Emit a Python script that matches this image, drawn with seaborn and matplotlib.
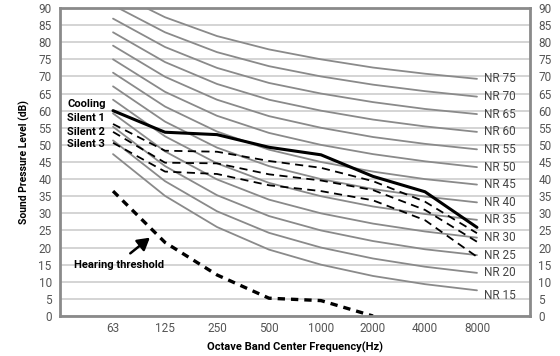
import matplotlib
matplotlib.use("Agg")
import matplotlib.pyplot as plt
import seaborn as sns
import numpy as np
import pandas as pd

freqs = ["63", "125", "250", "500", "1000", "2000", "4000", "8000"]

nr_names = ["NR 15", "NR 20", "NR 25", "NR 30", "NR 35", "NR 40", "NR 45",
            "NR 50", "NR 55", "NR 60", "NR 65", "NR 70", "NR 75"]
nr15 = [47.3, 35.1, 26.0, 19.4, 15.0, 11.7, 9.3, 7.5]
nr20 = [51.3, 39.4, 30.6, 24.3, 20.0, 16.8, 14.4, 12.6]
nr25 = [55.3, 43.8, 35.3, 29.2, 25.0, 21.9, 19.5, 17.8]
nr30 = [59.2, 48.1, 39.9, 34.0, 30.0, 27.0, 24.7, 22.9]
nr35 = [63.2, 52.5, 44.6, 38.9, 35.0, 32.0, 29.8, 28.1]
nr40 = [67.1, 56.8, 49.2, 43.8, 40.0, 37.1, 34.9, 33.2]
nr45 = [71.1, 61.2, 53.9, 48.6, 45.0, 42.2, 40.0, 38.4]
nr50 = [75.0, 65.5, 58.5, 53.5, 50.0, 47.3, 45.2, 43.5]
nr55 = [79.0, 69.9, 63.2, 58.4, 55.0, 52.3, 50.3, 48.7]
nr60 = [82.9, 74.2, 67.8, 63.2, 60.0, 57.4, 55.4, 53.8]
nr65 = [86.9, 78.6, 72.5, 68.1, 65.0, 62.5, 60.5, 59.0]
nr70 = [90.8, 82.9, 77.1, 73.0, 70.0, 67.6, 65.7, 64.1]
nr75 = [94.8, 87.3, 81.8, 77.9, 75.0, 72.6, 70.8, 69.3]
nr_values = [nr15, nr20, nr25, nr30, nr35, nr40, nr45, nr50, nr55, nr60, nr65, nr70, nr75]

cooling = [60.0, 53.7, 53.0, 49.3, 47.1, 40.8, 36.3, 25.9]
silent1 = [56.1, 48.3, 48.0, 45.3, 43.3, 39.4, 33.4, 24.2]
silent2 = [53.8, 44.8, 44.6, 41.4, 39.6, 36.8, 31.0, 21.7]
silent3 = [50.6, 42.2, 41.5, 38.2, 36.5, 33.8, 28.0, 17.3]
hearing = [36.5, 21.5, 12.0, 5.2, 4.5, 0.0]

series_labels = ["Cooling", "Silent 1", "Silent 2", "Silent 3"]
hearing_label = "Hearing threshold"
x_label = "Octave Band Center Frequency(Hz)"
y_label = "Sound Pressure Level (dB)"

sns.set_theme(style="white")
plt.rcParams["font.family"] = ["Roboto", "DejaVu Sans"]

fig = plt.figure(figsize=(5.6, 3.56), dpi=100)
ax = fig.add_axes([60 / 560, 1 - 316 / 356, 470 / 560, 308 / 356])

pos = list(range(len(freqs)))

# NR curves
rows = []
for name, vals in zip(nr_names, nr_values):
    for p, v in zip(pos, vals):
        rows.append({"curve": name, "pos": p, "level": v})
nr_df = pd.DataFrame(rows)
sns.lineplot(data=nr_df, x="pos", y="level", units="curve", estimator=None,
             color="#8a8a8a", lw=1.3, ax=ax, legend=False)

for name, vals in zip(nr_names, nr_values):
    off = -1.6 if name == "NR 15" else 0.0
    ax.text(pos[-1] + 0.13, vals[-1] + off, name, ha="left", va="center",
            fontsize=8.5, color="#444444")

# measured series
sns.lineplot(x=pos, y=cooling, color="black", lw=2.2, ax=ax)
for vals in (silent1, silent2, silent3):
    sns.lineplot(x=pos, y=vals, color="black", lw=1.3, ax=ax,
                 dashes=False, linestyle=(0, (4.5, 3)))
sns.lineplot(x=pos[:len(hearing)], y=hearing, color="black", lw=2.4, ax=ax,
             linestyle=(0, (2.2, 1.8)))

label_y = [62.0, 57.9, 53.8, 50.3]
for txt, yy in zip(series_labels, label_y):
    ax.text(-0.885, yy, txt, ha="left", va="center", fontsize=8,
            fontweight="bold", color="black")

ax.text(-0.75, 14.9, hearing_label, ha="left", va="center", fontsize=8,
        fontweight="bold", color="black")
ax.annotate("", xy=(0.75, 23.4), xytext=(0.29, 17.8),
            arrowprops=dict(arrowstyle="-|>,head_length=0.6,head_width=0.35",
                            color="black", lw=1.8))

ax.set_xlim(-1.02, 8.02)
ax.set_ylim(0, 90)
ax.set_xticks(pos)
ax.set_xticklabels(freqs)
ax.set_yticks(np.arange(0, 95, 5))
ax.set_yticks(np.arange(0, 75, 5), minor=True)
ax.grid(axis="y", which="major", color="#d4d4d4", lw=1.4)
ax.set_axisbelow(True)

ax.tick_params(axis="x", which="major", direction="in", length=3, width=1.2,
               color="#8a8a8a", labelsize=8.5, labelcolor="#555555", pad=4)
ax.tick_params(axis="y", which="major", left=False, right=False, length=0,
               labelleft=True, labelright=True, labelsize=8.5,
               labelcolor="#555555", pad=6)
ax.tick_params(axis="y", which="minor", left=False, right=True,
               direction="in", length=5, width=1.0, color="#8a8a8a")

for s in ax.spines.values():
    s.set_visible(True)
    s.set_color("#8a8a8a")
    s.set_linewidth(2)

ax.set_xlabel(x_label, fontsize=8, fontweight="bold", color="black", labelpad=5)
ax.set_ylabel(y_label, fontsize=7.5, fontweight="bold", color="black", labelpad=6)

fig.savefig("out.png", dpi=100)
